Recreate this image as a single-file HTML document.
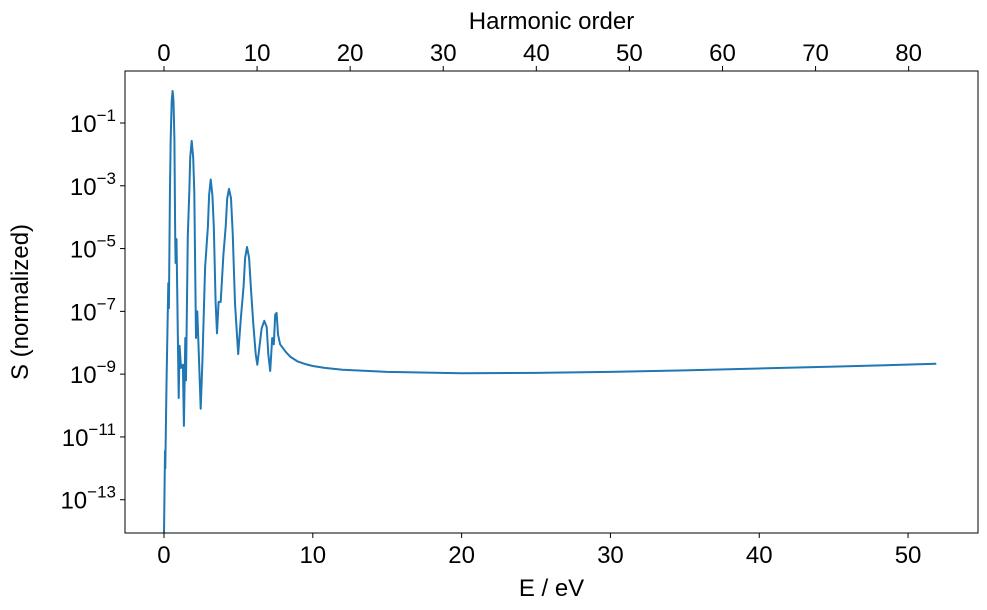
<!DOCTYPE html>
<html><head><meta charset="utf-8"><style>
body{margin:0;background:#fff}
svg{display:block;font-family:"Liberation Sans","DejaVu Sans",sans-serif}
</style></head><body>
<svg id="chart" width="987" height="610" viewBox="0 0 987 610">
<rect x="0" y="0" width="987" height="610" fill="#fff"/>
<g id="plot"></g>
</svg>
<script>
const energies=[0,0.07,0.09,0.17,0.29,0.33,0.4,0.45,0.52,0.58,0.64,0.7,0.75,0.78,0.84,0.99,1.05,1.14,1.27,1.34,1.43,1.48,1.6,1.7,1.76,1.86,1.96,2.04,2.15,2.24,2.38,2.47,2.58,2.76,2.95,3.03,3.14,3.25,3.35,3.47,3.56,3.67,3.81,3.99,4.15,4.25,4.37,4.5,4.62,4.77,4.99,5.17,5.35,5.45,5.58,5.72,5.85,6.0,6.16,6.27,6.4,6.56,6.74,6.9,7.01,7.14,7.27,7.38,7.47,7.57,7.66,7.8,8.2,8.5,9,9.5,10,10.8,12,15,20,25,30,35,40,45,51.9];
const logS=[-14.1,-11.45,-12,-9.3,-6.1,-6.9,-3.3,-1.5,-0.3,0.02,-0.3,-1.5,-4.6,-5.46,-4.7,-9.76,-8.1,-8.8,-8.7,-10.65,-7.85,-9.2,-4.6,-3.2,-2.1,-1.57,-2.1,-3.2,-7.85,-7.0,-8.9,-10.1,-8.6,-5.6,-4.3,-3.3,-2.8,-3.3,-4.3,-6.7,-7.7,-6.7,-6.7,-5.2,-4.3,-3.4,-3.1,-3.4,-4.5,-6.75,-8.36,-7.2,-6.2,-5.3,-4.95,-5.3,-6.3,-7.4,-8.36,-8.7,-8.2,-7.55,-7.3,-7.5,-8.36,-8.9,-7.85,-8.05,-7.1,-7.05,-7.73,-8.05,-8.3,-8.45,-8.6,-8.68,-8.74,-8.8,-8.86,-8.93,-8.97,-8.96,-8.93,-8.88,-8.82,-8.76,-8.67];
const xTicks=[0,10,20,30,40,50];
const yTickExps=[-13,-11,-9,-7,-5,-3,-1];
const harmonicTicks=[0,10,20,30,40,50,60,70,80];
const L=125,R=978,T=71,B=533;
const xMin=-2.62,xMax=54.7,yMin=-14.06,yMax=0.656;
const photon=0.6255;
const sx=e=>L+(e-xMin)/(xMax-xMin)*(R-L);
const sy=v=>B-(v-yMin)/(yMax-yMin)*(B-T);
const NS="http://www.w3.org/2000/svg";
const g=document.getElementById('plot');
function mk(tag,attrs,parent){const el=document.createElementNS(NS,tag);for(const k in attrs)el.setAttribute(k,attrs[k]);(parent||g).appendChild(el);return el;}
const defs=mk('defs',{});const cp=mk('clipPath',{id:'clip'},defs);mk('rect',{x:L,y:T,width:R-L,height:B-T},cp);
const d=energies.map((e,i)=>(i?'L':'M')+sx(e).toFixed(1)+','+sy(logS[i]).toFixed(1)).join('');
const line=mk('path',{d:d,fill:'none',stroke:'#1f77b4','stroke-width':2,'stroke-linejoin':'round','clip-path':'url(#clip)'});


const fr=mk('rect',{x:L,y:T,width:R-L,height:B-T,fill:'none',stroke:'#000','stroke-width':1});


xTicks.forEach(t=>{const x=sx(t);mk('line',{x1:x,x2:x,y1:B,y2:B+5,stroke:'#000'});
const tx=mk('text',{x:x,y:B+30,'font-size':24,'text-anchor':'middle'});tx.textContent=t;

});
harmonicTicks.forEach(h=>{const x=sx(h*photon);mk('line',{x1:x,x2:x,y1:T,y2:T-5,stroke:'#000'});
const tx=mk('text',{x:x,y:T-10,'font-size':24,'text-anchor':'middle'});tx.textContent=h;

});
yTickExps.forEach(p=>{const y=sy(p);mk('line',{x1:L,x2:L-5,y1:y,y2:y,stroke:'#000'});
const tx=mk('text',{x:L-9,y:y+9,'font-size':24,'text-anchor':'end'});
const a=document.createElementNS(NS,'tspan');a.textContent='10';tx.appendChild(a);
const b=document.createElementNS(NS,'tspan');b.setAttribute('dy','-11');b.setAttribute('font-size','17');b.textContent='\u2212'+Math.abs(p);tx.appendChild(b);

});
const xl=mk('text',{x:(L+R)/2,y:596,'font-size':24,'text-anchor':'middle'});xl.textContent='E / eV';


const tl=mk('text',{x:(L+R)/2,y:29,'font-size':24,'text-anchor':'middle'});tl.textContent='Harmonic order';


const yl=mk('text',{x:0,y:0,'font-size':24,'text-anchor':'middle',transform:'translate(28,302) rotate(-90)'});yl.textContent='S (normalized)';


</script>
</body></html>
